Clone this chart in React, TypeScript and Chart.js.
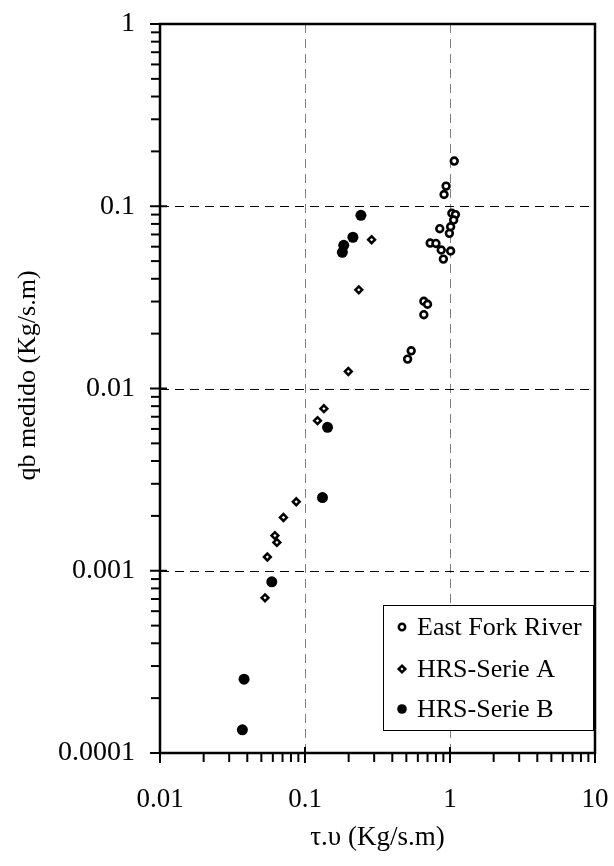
import React, { useEffect, useRef } from 'react';
import { Chart, registerables } from 'chart.js';

Chart.register(...registerables);

// ---- data ----
const seriesLabels = ['East Fork River', 'HRS-Serie A', 'HRS-Serie B'];

const eastForkX = [1.07, 0.94, 0.91, 1.03, 1.09, 1.06, 1.01, 0.85, 0.99, 0.73, 0.8, 0.87, 1.01, 0.9, 0.66, 0.7, 0.66, 0.54, 0.51];
const eastForkY = [0.177, 0.129, 0.116, 0.0915, 0.09, 0.084, 0.0772, 0.0753, 0.071, 0.0628, 0.0625, 0.0575, 0.0568, 0.0513, 0.0301, 0.029, 0.0254, 0.0161, 0.0145];

const serieAX = [0.288, 0.235, 0.199, 0.135, 0.122, 0.087, 0.071, 0.062, 0.064, 0.055, 0.053];
const serieAY = [0.0655, 0.0348, 0.0124, 0.00775, 0.00666, 0.00239, 0.00196, 0.00156, 0.00143, 0.00119, 0.00071];

const serieBX = [0.243, 0.214, 0.185, 0.181, 0.143, 0.132, 0.059, 0.038, 0.037];
const serieBY = [0.0892, 0.0676, 0.061, 0.0559, 0.00612, 0.00252, 0.00087, 0.000254, 0.000134];

const xTickValues = [0.01, 0.1, 1, 10];
const xTickLabels = ['0.01', '0.1', '1', '10'];
const yTickValues = [0.0001, 0.001, 0.01, 0.1, 1];
const yTickLabels = ['0.0001', '0.001', '0.01', '0.1', '1'];
const xGridValues = [0.1, 1];
const yGridValues = [0.001, 0.01, 0.1];

const xTitle = 'τ.υ (Kg/s.m)';
const yTitle = 'qb medido (Kg/s.m)';

const FONT = 'Liberation Serif';

const toPoints = (xs: number[], ys: number[]) => xs.map((x, i) => ({ x, y: ys[i] }));

function line(ctx: CanvasRenderingContext2D, x1: number, y1: number, x2: number, y2: number) {
  ctx.beginPath();
  ctx.moveTo(x1, y1);
  ctx.lineTo(x2, y2);
  ctx.stroke();
}

function drawMarker(ctx: CanvasRenderingContext2D, kind: number, x: number, y: number) {
  ctx.save();
  ctx.strokeStyle = '#000';
  ctx.lineWidth = 2.5;
  ctx.setLineDash([]);
  if (kind === 0) {
    ctx.beginPath();
    ctx.arc(x, y, 3.2, 0, Math.PI * 2);
    ctx.fillStyle = '#fff';
    ctx.fill();
    ctx.stroke();
  } else if (kind === 1) {
    const r = 3.3;
    ctx.beginPath();
    ctx.moveTo(x, y - r);
    ctx.lineTo(x + r, y);
    ctx.lineTo(x, y + r);
    ctx.lineTo(x - r, y);
    ctx.closePath();
    ctx.fillStyle = '#fff';
    ctx.fill();
    ctx.stroke();
  } else {
    ctx.beginPath();
    ctx.arc(x, y, 4.8, 0, Math.PI * 2);
    ctx.fillStyle = '#000';
    ctx.fill();
  }
  ctx.restore();
}

const excelPlugin = {
  id: 'excelFrame',
  beforeDatasetsDraw(chart: any) {
    const { ctx, chartArea: a, scales } = chart;
    const x = scales.x;
    const y = scales.y;
    ctx.save();
    ctx.lineWidth = 1;
    ctx.setLineDash([9, 6]);
    ctx.strokeStyle = '#7f7f7f';
    xGridValues.forEach((v) => {
      const px = Math.round(x.getPixelForValue(v)) + 0.5;
      line(ctx, px, a.top, px, a.bottom);
    });
    ctx.strokeStyle = '#000';
    yGridValues.forEach((v) => {
      const py = Math.round(y.getPixelForValue(v)) + 0.5;
      line(ctx, a.left, py, a.right, py);
    });
    ctx.restore();
  },
  afterDatasetsDraw(chart: any) {
    const { ctx, chartArea: a, scales } = chart;
    const x = scales.x;
    const y = scales.y;
    ctx.save();
    ctx.setLineDash([]);
    ctx.strokeStyle = '#000';
    // frame
    ctx.lineWidth = 2.5;
    ctx.strokeRect(a.left, a.top, a.right - a.left, a.bottom - a.top);
    // ticks
    ctx.lineWidth = 2;
    const xMinE = Math.round(Math.log10(xTickValues[0]));
    const xMaxE = Math.round(Math.log10(xTickValues[xTickValues.length - 1]));
    for (let e = xMinE; e <= xMaxE; e++) {
      for (let m = 1; m <= 9; m++) {
        if (e === xMaxE && m > 1) break;
        const px = x.getPixelForValue(m * Math.pow(10, e));
        if (m === 1) line(ctx, px, a.bottom - 6, px, a.bottom + 10);
        else line(ctx, px, a.bottom, px, a.bottom + 9);
      }
    }
    const yMinE = Math.round(Math.log10(yTickValues[0]));
    const yMaxE = Math.round(Math.log10(yTickValues[yTickValues.length - 1]));
    for (let e = yMinE; e <= yMaxE; e++) {
      for (let m = 1; m <= 9; m++) {
        if (e === yMaxE && m > 1) break;
        const py = y.getPixelForValue(m * Math.pow(10, e));
        if (m === 1) line(ctx, a.left - 10, py, a.left + 7, py);
        else line(ctx, a.left - 9, py, a.left, py);
      }
    }
    // legend
    const lw = 210;
    const lh = 125;
    const lx = a.right - 212;
    const ly = a.bottom - 148;
    ctx.fillStyle = '#fff';
    ctx.fillRect(lx, ly, lw, lh);
    ctx.lineWidth = 1;
    ctx.strokeStyle = '#000';
    ctx.strokeRect(Math.round(lx) + 0.5, Math.round(ly) + 0.5, lw, lh);
    const rows = [22, 64, 104];
    ctx.font = `26px "${FONT}"`;
    ctx.fillStyle = '#000';
    ctx.textAlign = 'left';
    ctx.textBaseline = 'middle';
    seriesLabels.forEach((lab, i) => {
      drawMarker(ctx, i, lx + 19, ly + rows[i]);
      ctx.fillStyle = '#000';
      ctx.fillText(lab, lx + 34, ly + rows[i] + 1);
    });
    // y title
    ctx.save();
    ctx.translate(28, (a.top + a.bottom) / 2 - 13);
    ctx.rotate(-Math.PI / 2);
    ctx.textAlign = 'center';
    ctx.textBaseline = 'middle';
    ctx.font = `26px "${FONT}"`;
    ctx.fillText(yTitle, 0, 0);
    ctx.restore();
    ctx.restore();
  },
};

function clearPadding(s: any) {
  s.paddingTop = 0;
  s.paddingBottom = 0;
  s.paddingLeft = 0;
  s.paddingRight = 0;
}

export default function App() {
  const ref = useRef<HTMLCanvasElement | null>(null);
  useEffect(() => {
    if (!ref.current) return;
    const chart = new Chart(ref.current, {
      type: 'scatter',
      data: {
        datasets: [
          {
            label: seriesLabels[0],
            data: toPoints(eastForkX, eastForkY),
            pointStyle: 'circle',
            pointRadius: 3.4,
            borderWidth: 2.6,
            borderColor: '#000',
            backgroundColor: '#fff',
          },
          {
            label: seriesLabels[1],
            data: toPoints(serieAX, serieAY),
            pointStyle: 'rectRot',
            pointRadius: 3.4,
            borderWidth: 2.5,
            borderColor: '#000',
            backgroundColor: '#fff',
          },
          {
            label: seriesLabels[2],
            data: toPoints(serieBX, serieBY),
            pointStyle: 'circle',
            pointRadius: 5.5,
            borderWidth: 0,
            borderColor: '#000',
            backgroundColor: '#000',
          },
        ],
      },
      options: {
        animation: false,
        responsive: false,
        devicePixelRatio: 1,
        layout: { padding: { left: 0, right: 19, top: 24, bottom: 0 } },
        plugins: { legend: { display: false }, tooltip: { enabled: false } },
        scales: {
          x: {
            type: 'logarithmic',
            min: 0.01,
            max: 10,
            grid: { display: false, drawTicks: false },
            border: { display: false },
            afterBuildTicks: (s: any) => {
              s.ticks = xTickValues.map((v) => ({ value: v }));
            },
            afterFit: (s: any) => {
              s.height = 113;
              clearPadding(s);
            },
            ticks: {
              autoSkip: false,
              maxRotation: 0,
              minRotation: 0,
              padding: 31,
              color: '#000',
              font: { family: FONT, size: 27 },
              callback: (_v: any, i: number) => xTickLabels[i],
            },
            title: {
              display: true,
              text: xTitle,
              color: '#000',
              font: { family: FONT, size: 27 },
              padding: { top: 0, bottom: 12 },
            },
          },
          y: {
            type: 'logarithmic',
            min: 0.0001,
            max: 1,
            grid: { display: false, drawTicks: false },
            border: { display: false },
            afterBuildTicks: (s: any) => {
              s.ticks = yTickValues.map((v) => ({ value: v }));
            },
            afterFit: (s: any) => {
              s.width = 160;
              clearPadding(s);
            },
            ticks: {
              autoSkip: false,
              padding: 25,
              color: '#000',
              font: { family: FONT, size: 28 },
              callback: (_v: any, i: number) => yTickLabels[i],
            },
          },
        },
      } as any,
      plugins: [excelPlugin],
    });
    return () => chart.destroy();
  }, []);
  return (
    <div style={{ position: 'absolute', left: 0, top: 0, width: 614, height: 866, background: '#fff' }}>
      <canvas ref={ref} width={614} height={866} style={{ display: 'block' }} />
    </div>
  );
}
